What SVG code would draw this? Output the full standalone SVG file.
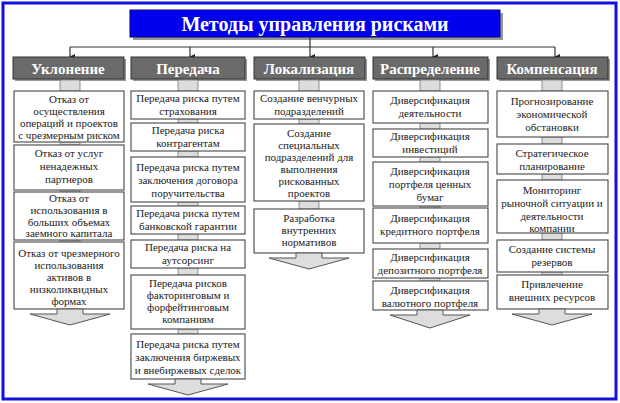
<svg xmlns="http://www.w3.org/2000/svg" width="620" height="403" viewBox="0 0 620 403">
<style>
.t{font-family:"Liberation Serif","DejaVu Serif",serif;font-size:11px;fill:#222;text-anchor:middle}
.h{font-family:"Liberation Serif","DejaVu Serif",serif;font-size:15px;font-weight:bold;fill:#fff;text-anchor:middle}
.b{fill:#fff;stroke:#555;stroke-width:1.2}
.c{fill:#ddd;stroke:#777;stroke-width:0.8}
.hd{fill:#6a6a6a;stroke:#333;stroke-width:1}
.sh{fill:#999}
.ar{fill:#ddd;stroke:#555;stroke-width:1}
</style>
<defs><marker id="m" markerWidth="8" markerHeight="8" refX="4" refY="6" orient="auto" markerUnits="userSpaceOnUse"><path d="M1,1 L4,7 L7,1 Z" fill="#222"/></marker></defs>
<rect x="0" y="0" width="620" height="403" fill="#fff"/>
<rect x="3" y="3" width="613" height="396" fill="none" stroke="#1010e0" stroke-width="3"/>
<g id="title"><rect x="133" y="13" width="370" height="27" class="sh"/><rect x="130" y="10" width="370" height="27" fill="#0000ee" stroke="#000080"/><text x="315" y="31" class="h" style="font-size:20px">Методы управления рисками</text></g>
<g id="connectors" fill="none" stroke="#333" stroke-width="1.2">
<path d="M70,47 H555 M310,37 V47"/>
<path d="M70,47 V57" marker-end="url(#m)"/><path d="M190,47 V57" marker-end="url(#m)"/><path d="M310,47 V57" marker-end="url(#m)"/><path d="M433,47 V57" marker-end="url(#m)"/><path d="M555,47 V57" marker-end="url(#m)"/>
</g>
<g id="headers">
<rect x="15" y="59" width="111" height="22" class="sh"/><rect x="13" y="57" width="111" height="22" class="hd"/><text x="68" y="74" class="h">Уклонение</text>
<rect x="133" y="59" width="114" height="22" class="sh"/><rect x="131" y="57" width="114" height="22" class="hd"/><text x="188" y="74" class="h">Передача</text>
<rect x="256" y="59" width="111" height="22" class="sh"/><rect x="254" y="57" width="111" height="22" class="hd"/><text x="309" y="74" class="h">Локализация</text>
<rect x="375" y="59" width="115" height="22" class="sh"/><rect x="373" y="57" width="115" height="22" class="hd"/><text x="430" y="74" class="h">Распределение</text>
<rect x="499" y="59" width="111" height="22" class="sh"/><rect x="497" y="57" width="111" height="22" class="hd"/><text x="552" y="74" class="h">Компенсация</text>
</g>
<g id="links">
<rect x="60" y="80" width="20" height="11" class="c"/><rect x="178" y="80" width="20" height="11" class="c"/><rect x="299" y="80" width="20" height="11" class="c"/><rect x="420" y="80" width="20" height="11" class="c"/><rect x="542" y="80" width="20" height="11" class="c"/>
<rect x="60" y="142" width="20" height="3" class="c"/><rect x="60" y="190" width="20" height="2" class="c"/><rect x="60" y="240" width="20" height="2" class="c"/>
<rect x="178" y="119" width="20" height="4" class="c"/><rect x="178" y="151" width="20" height="6" class="c"/><rect x="178" y="202" width="20" height="4" class="c"/><rect x="178" y="234" width="20" height="6" class="c"/><rect x="178" y="268" width="20" height="7" class="c"/><rect x="178" y="329" width="20" height="5" class="c"/>
<rect x="299" y="119" width="20" height="5" class="c"/><rect x="299" y="201" width="20" height="8" class="c"/>
<rect x="420" y="123" width="20" height="6" class="c"/><rect x="420" y="157" width="20" height="5" class="c"/><rect x="420" y="206" width="20" height="2" class="c"/><rect x="420" y="243" width="20" height="6" class="c"/><rect x="420" y="278" width="20" height="3" class="c"/>
<rect x="542" y="137" width="20" height="7" class="c"/><rect x="542" y="174" width="20" height="6" class="c"/><rect x="542" y="233" width="20" height="7" class="c"/><rect x="542" y="272" width="20" height="3" class="c"/>
</g>
<g id="c1">
<rect x="14" y="91" width="110" height="51" class="b"/><text class="t"><tspan x="69" y="103">Отказ от</tspan><tspan x="69" y="115">осуществления</tspan><tspan x="69" y="127">операций и проектов</tspan><tspan x="69" y="139">с чрезмерным риском</tspan></text>
<rect x="14" y="145" width="110" height="45" class="b"/><text class="t"><tspan x="69" y="157">Отказ от услуг</tspan><tspan x="69" y="170">ненадежных</tspan><tspan x="69" y="183">партнеров</tspan></text>
<rect x="14" y="192" width="110" height="48" class="b"/><text class="t"><tspan x="69" y="202">Отказ от</tspan><tspan x="69" y="214">использования в</tspan><tspan x="69" y="226">больших объемах</tspan><tspan x="69" y="237">заемного капитала</tspan></text>
<rect x="14" y="242" width="110" height="67" class="b"/><text class="t"><tspan x="69" y="257">Отказ от чрезмерного</tspan><tspan x="69" y="269">использования</tspan><tspan x="69" y="281">активов в</tspan><tspan x="69" y="293">низколиквидных</tspan><tspan x="69" y="305">формах</tspan></text>
<polygon points="57,309 57,314 30,314 70,325 110,314 83,314 83,309" class="ar"/>
</g>
<g id="c2">
<rect x="131" y="91" width="114" height="28" class="b"/><text class="t"><tspan x="188" y="102">Передача риска путем</tspan><tspan x="188" y="115">страхования</tspan></text>
<rect x="131" y="123" width="114" height="28" class="b"/><text class="t"><tspan x="188" y="134">Передача риска</tspan><tspan x="188" y="147">контрагентам</tspan></text>
<rect x="131" y="157" width="114" height="45" class="b"/><text class="t"><tspan x="188" y="171">Передача риска путем</tspan><tspan x="188" y="184">заключения договора</tspan><tspan x="188" y="197">поручительства</tspan></text>
<rect x="131" y="206" width="114" height="28" class="b"/><text class="t"><tspan x="188" y="217">Передача риска путем</tspan><tspan x="188" y="230">банковской гарантии</tspan></text>
<rect x="131" y="240" width="114" height="28" class="b"/><text class="t"><tspan x="188" y="251">Передача риска на</tspan><tspan x="188" y="264">аутсорсинг</tspan></text>
<rect x="131" y="275" width="114" height="54" class="b"/><text class="t"><tspan x="188" y="287">Передача рисков</tspan><tspan x="188" y="299">факторинговым и</tspan><tspan x="188" y="311">форфейтинговым</tspan><tspan x="188" y="323">компаниям</tspan></text>
<rect x="131" y="334" width="114" height="45" class="b"/><text class="t"><tspan x="188" y="348">Передача риска путем</tspan><tspan x="188" y="361">заключения биржевых</tspan><tspan x="188" y="374">и внебиржевых сделок</tspan></text>
<polygon points="175,379 175,384 148,384 188,395 228,384 201,384 201,379" class="ar"/>
</g>
<g id="c3">
<rect x="254" y="91" width="110" height="28" class="b"/><text class="t"><tspan x="309" y="102">Создание венчурных</tspan><tspan x="309" y="115">подразделений</tspan></text>
<rect x="254" y="124" width="110" height="77" class="b"/><text class="t"><tspan x="309" y="137">Создание</tspan><tspan x="309" y="149">специальных</tspan><tspan x="309" y="161">подразделений для</tspan><tspan x="309" y="173">выполнения</tspan><tspan x="309" y="185">рискованных</tspan><tspan x="309" y="197">проектов</tspan></text>
<rect x="254" y="209" width="110" height="44" class="b"/><text class="t"><tspan x="309" y="222">Разработка</tspan><tspan x="309" y="234">внутренних</tspan><tspan x="309" y="246">нормативов</tspan></text>
<polygon points="296,253 296,258 269,258 309,269 349,258 322,258 322,253" class="ar"/>
</g>
<g id="c4">
<rect x="373" y="91" width="115" height="32" class="b"/><text class="t"><tspan x="430" y="104">Диверсификация</tspan><tspan x="430" y="117">деятельности</tspan></text>
<rect x="373" y="129" width="115" height="28" class="b"/><text class="t"><tspan x="430" y="140">Диверсификация</tspan><tspan x="430" y="153">инвестиций</tspan></text>
<rect x="373" y="162" width="115" height="44" class="b"/><text class="t"><tspan x="430" y="175">Диверсификация</tspan><tspan x="430" y="188">портфеля ценных</tspan><tspan x="430" y="201">бумаг</tspan></text>
<rect x="373" y="208" width="115" height="35" class="b"/><text class="t"><tspan x="430" y="222">Диверсификация</tspan><tspan x="430" y="235">кредитного портфеля</tspan></text>
<rect x="373" y="249" width="115" height="29" class="b"/><text class="t"><tspan x="430" y="261">Диверсификация</tspan><tspan x="430" y="274">депозитного портфеля</tspan></text>
<rect x="373" y="281" width="115" height="29" class="b"/><text class="t"><tspan x="430" y="294">Диверсификация</tspan><tspan x="430" y="307">валютного портфеля</tspan></text>
<polygon points="417,310 417,315 390,315 430,328 470,315 443,315 443,310" class="ar"/>
</g>
<g id="c5">
<rect x="497" y="91" width="111" height="46" class="b"/><text class="t"><tspan x="552" y="105">Прогнозирование</tspan><tspan x="552" y="118">экономической</tspan><tspan x="552" y="131">обстановки</tspan></text>
<rect x="497" y="144" width="111" height="30" class="b"/><text class="t"><tspan x="552" y="157">Стратегическое</tspan><tspan x="552" y="170">планирование</tspan></text>
<rect x="497" y="180" width="111" height="53" class="b"/><text class="t"><tspan x="552" y="194">Мониторинг</tspan><tspan x="552" y="207">рыночной ситуации и</tspan><tspan x="552" y="220">деятельности</tspan><tspan x="552" y="232">компании</tspan></text>
<rect x="497" y="240" width="111" height="32" class="b"/><text class="t"><tspan x="552" y="253">Создание системы</tspan><tspan x="552" y="266">резервов</tspan></text>
<rect x="497" y="275" width="111" height="34" class="b"/><text class="t"><tspan x="552" y="288">Привлечение</tspan><tspan x="552" y="301">внешних ресурсов</tspan></text>
<polygon points="539,309 539,314 512,314 552,325 592,314 565,314 565,309" class="ar"/>
</g>
</svg>
